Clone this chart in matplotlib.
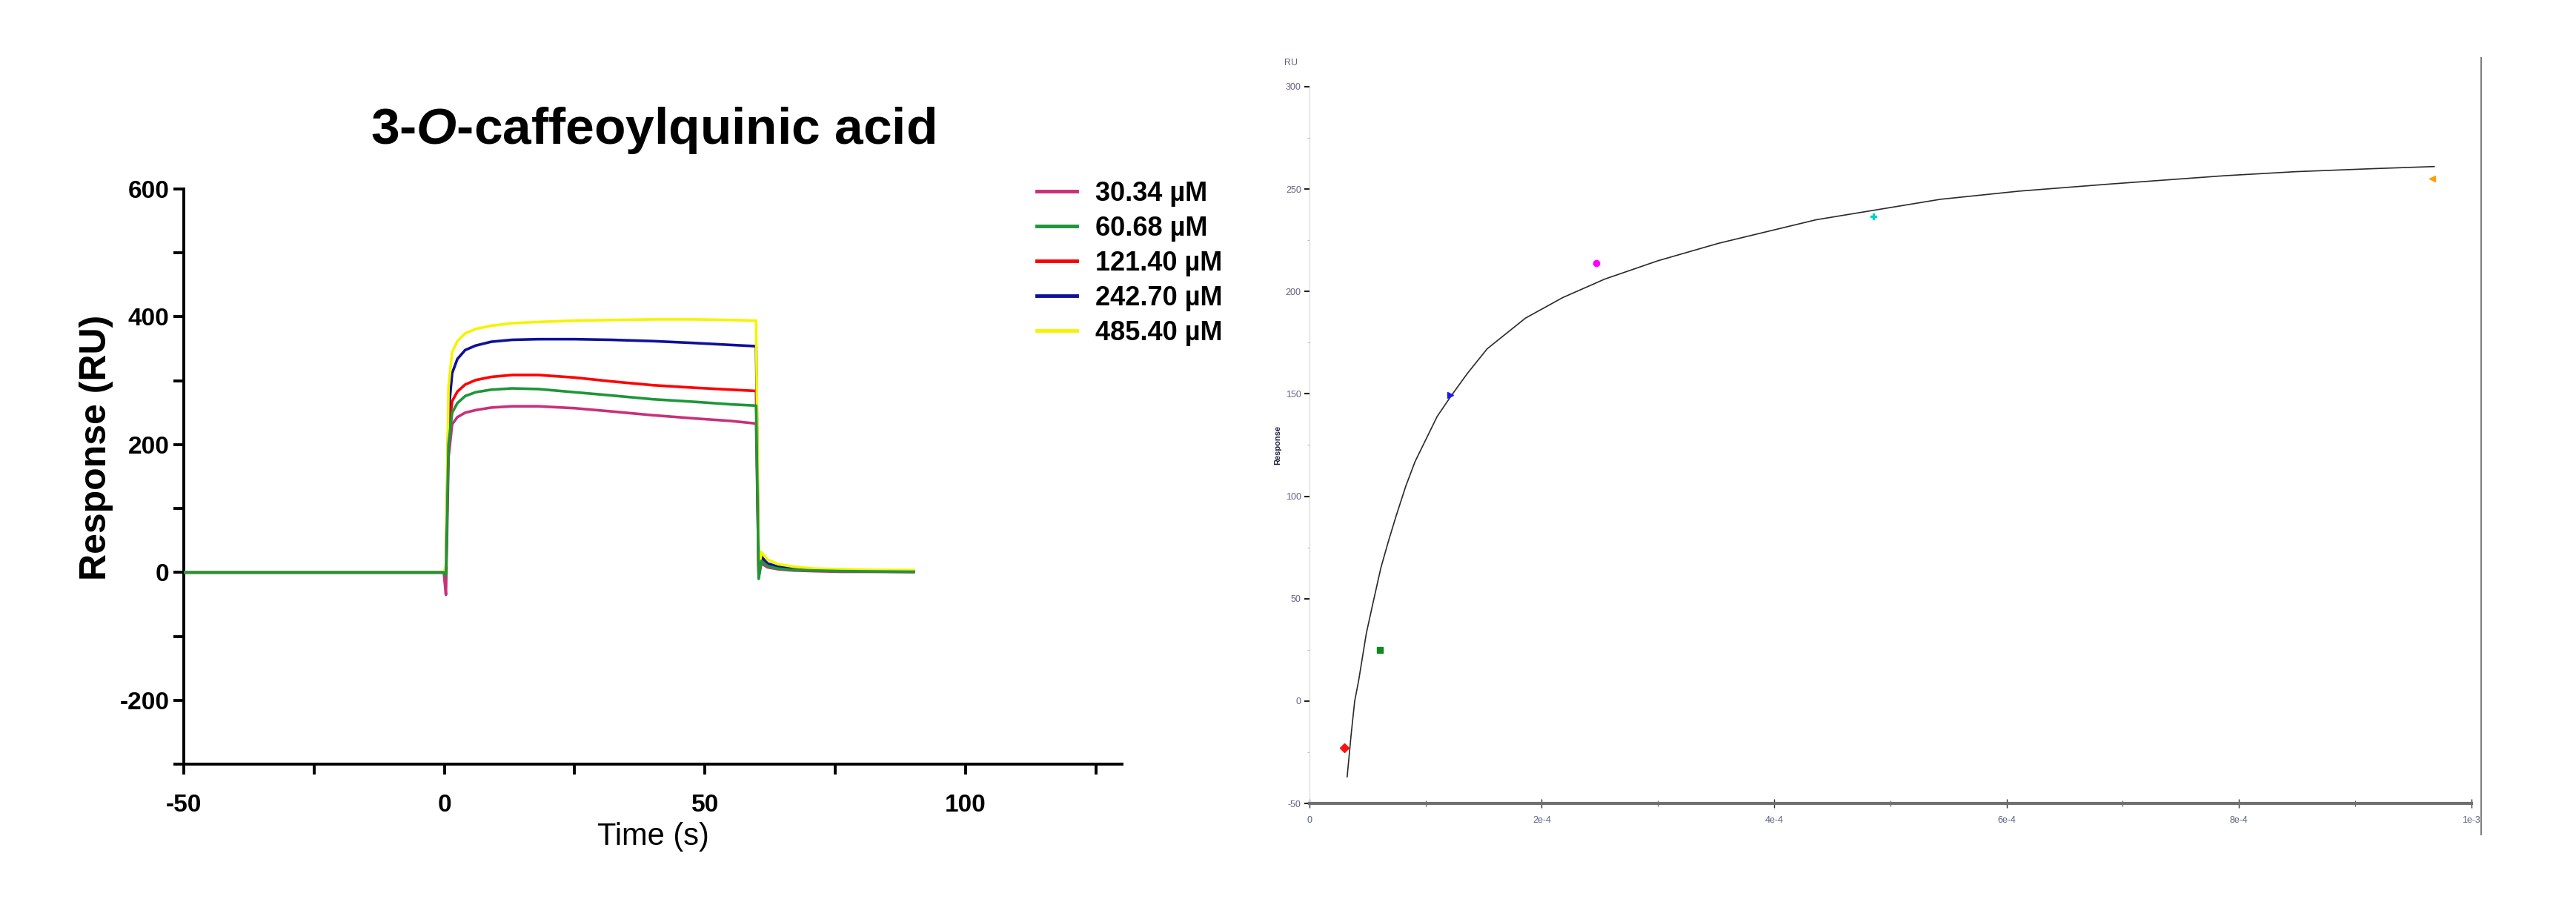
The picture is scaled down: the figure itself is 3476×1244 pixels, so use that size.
import matplotlib
matplotlib.use("Agg")
import matplotlib.pyplot as plt
from matplotlib.lines import Line2D
from matplotlib.ticker import MultipleLocator, FixedLocator

plt.rcParams['font.family'] = ['Liberation Sans', 'DejaVu Sans']
plt.rcParams['axes.unicode_minus'] = False
plt.rcParams['mathtext.fontset'] = 'custom'
plt.rcParams['mathtext.rm'] = 'Liberation Sans:bold'
plt.rcParams['mathtext.it'] = 'Liberation Sans:italic:bold'

# ---- left panel: SPR sensorgram ----
time_s = [-50, -0.1, 0.3, 0.8, 1.5, 2.5, 4, 6, 9, 13, 18, 25, 32, 40, 48, 55,
          59.8, 60.3, 60.8, 62, 64, 67, 71, 76, 82, 90]
resp_30 = [0, 0, -35, 180, 232, 243, 250, 254, 258, 260, 260, 257, 252, 246, 241, 237,
           233, -5, 14, 8, 5, 3, 2, 1, 1, 0.5]
resp_60 = [0, 0, -5, 200, 250, 265, 276, 282, 286, 288, 287, 282, 277, 271, 267, 263,
           261, -10, 18, 10, 6, 4, 3, 2, 1.5, 1]
resp_121 = [0, 0, 0, 220, 268, 283, 294, 301, 306, 309, 309, 305, 299, 293, 289, 286,
            284, -5, 20, 12, 7, 5, 3, 2.5, 2, 1.5]
resp_243 = [0, 0, 5, 250, 312, 334, 348, 355, 361, 364, 365, 365, 364, 362, 359, 356,
            354, -3, 25, 14, 9, 6, 4, 3, 2.5, 2]
resp_485 = [0, 0, 10, 290, 345, 362, 374, 381, 386, 390, 392, 394, 395, 396, 396, 395,
            394, 0, 32, 20, 13, 9, 6, 5, 4, 3.5]

series_labels = ["30.34 µM", "60.68 µM", "121.40 µM", "242.70 µM", "485.40 µM"]
series_colors = ["#c8307a", "#1e963a", "#ff0000", "#10109a", "#f4f400"]
series_z = [2, 6, 3, 4, 5]

# ---- right panel: steady-state affinity ----
conc_M = [3.034e-5, 6.068e-5, 1.214e-4, 2.47e-4, 4.854e-4, 9.66e-4]
req_RU = [-22.7, 24.9, 149.3, 214, 236.5, 255]
point_colors = ["#ff1010", "#108a20", "#1a1aff", "#ff00ff", "#00d0d0", "#ffa000"]
point_markers = ["D", "s", ">", "o", "P", "<"]

fit_uM = [32.5, 36, 39, 42.4, 49, 54, 61.5, 68, 75, 83, 91, 110, 122, 136, 153,
          186, 218, 254, 300, 352, 436, 543, 611, 690, 787, 849, 917, 968]
fit_RU = [-37, -16, 0, 10, 33, 46, 65, 78, 91, 105, 117, 139, 149, 160, 172,
          187, 197, 206, 215, 223.5, 235, 245, 249, 252.5, 256.5, 258.5, 260, 261]

y_ticks_r = [-50, 0, 50, 100, 150, 200, 250, 300]
x_ticks_r = [0, 2e-4, 4e-4, 6e-4, 8e-4, 1e-3]
x_ticklabels_r = ["0", "2e-4", "4e-4", "6e-4", "8e-4", "1e-3"]

fig = plt.figure(figsize=(34.76, 12.44), dpi=100)

# left
ax1 = fig.add_axes([0.0713, 0.1712, 0.3643, 0.6238])
for vals, lab, col, z in zip([resp_30, resp_60, resp_121, resp_243, resp_485],
                             series_labels, series_colors, series_z):
    ax1.plot(time_s, vals, color=col, lw=2.6, label=lab, zorder=z)

ax1.set_xlim(-50, 130)
ax1.set_ylim(-300, 600)
ax1.xaxis.set_major_locator(MultipleLocator(50))
ax1.xaxis.set_minor_locator(MultipleLocator(25))
ax1.yaxis.set_major_locator(FixedLocator([-200, 0, 200, 400, 600]))
ax1.yaxis.set_minor_locator(MultipleLocator(100))
for s in ["top", "right"]:
    ax1.spines[s].set_visible(False)
for s in ["left", "bottom"]:
    ax1.spines[s].set_linewidth(2.8)
ax1.tick_params(which="major", length=10, width=2.8, labelsize=24, pad=4)
ax1.tick_params(which="minor", length=10, width=2.8)
ax1.tick_params(axis="x", which="major", pad=19)
for t in ax1.get_xticklabels() + ax1.get_yticklabels():
    t.set_fontweight("bold")
ax1.set_xlabel("Time (s)", fontsize=30)
ax1.xaxis.set_label_coords(0.5, -0.10)
ax1.set_ylabel("Response (RU)", fontsize=36, fontweight="bold")
ax1.yaxis.set_label_coords(-0.075, 0.55)
ax1.set_title(r"3-$\mathit{O}$-caffeoylquinic acid", fontsize=50, fontweight="bold", pad=44)

handles = [Line2D([0], [0], color=c, lw=3.5) for c in series_colors]
fig.legend(handles, series_labels, loc="upper left", bbox_to_anchor=(0.393, 0.83),
           frameon=False, prop={"size": 26, "weight": "bold"},
           handlelength=1.5, handletextpad=0.7, labelspacing=0.33)

# right
ax2 = fig.add_axes([0.5083, 0.1286, 0.4511, 0.7774])
ax2.plot([u * 1e-6 for u in fit_uM], fit_RU, color="#2a2a2a", lw=1.2, zorder=2)
for x, y, c, m in zip(conc_M, req_RU, point_colors, point_markers):
    ax2.plot(x, y, marker=m, color=c, markersize=6, ls="none", zorder=3)

ax2.set_xlim(0, 1e-3)
ax2.set_ylim(-50, 300)
ax2.set_xticks(x_ticks_r)
ax2.set_xticklabels(x_ticklabels_r)
ax2.xaxis.set_minor_locator(MultipleLocator(1e-4))
ax2.set_yticks(y_ticks_r)
ax2.set_yticklabels([str(v) for v in y_ticks_r])
ax2.yaxis.set_minor_locator(MultipleLocator(25))
for s in ["top", "right"]:
    ax2.spines[s].set_visible(False)
ax2.spines["left"].set_color("#d8d8d8")
ax2.spines["left"].set_linewidth(0.8)
ax2.spines["bottom"].set_color("#707070")
ax2.spines["bottom"].set_linewidth(3)
ax2.tick_params(axis="y", which="major", length=5, width=1.5, color="#222222",
                labelsize=9, labelcolor="#6a6080", pad=3)
ax2.tick_params(axis="y", which="minor", length=2, width=0.8, color="#bbbbbb")
ax2.tick_params(axis="x", which="major", direction="inout", length=9, width=1,
                color="#333333", labelsize=9, labelcolor="#5a6080", pad=8)
ax2.tick_params(axis="x", which="minor", direction="inout", length=6, width=0.8,
                color="#555555")
ax2.set_ylabel("Response", fontsize=8, fontweight="bold", color="#1a1a3a")
ax2.yaxis.set_label_coords(-0.024, 0.5)
fig.text(0.5013, 0.932, "RU", fontsize=9, color="#606088", ha="center", va="center")

# frame edge of the pasted fitting window
fig.add_artist(Line2D([0.9632, 0.9632], [0.095, 0.937], color="#808080", lw=1.5))

fig.savefig("out.png", dpi=100)
